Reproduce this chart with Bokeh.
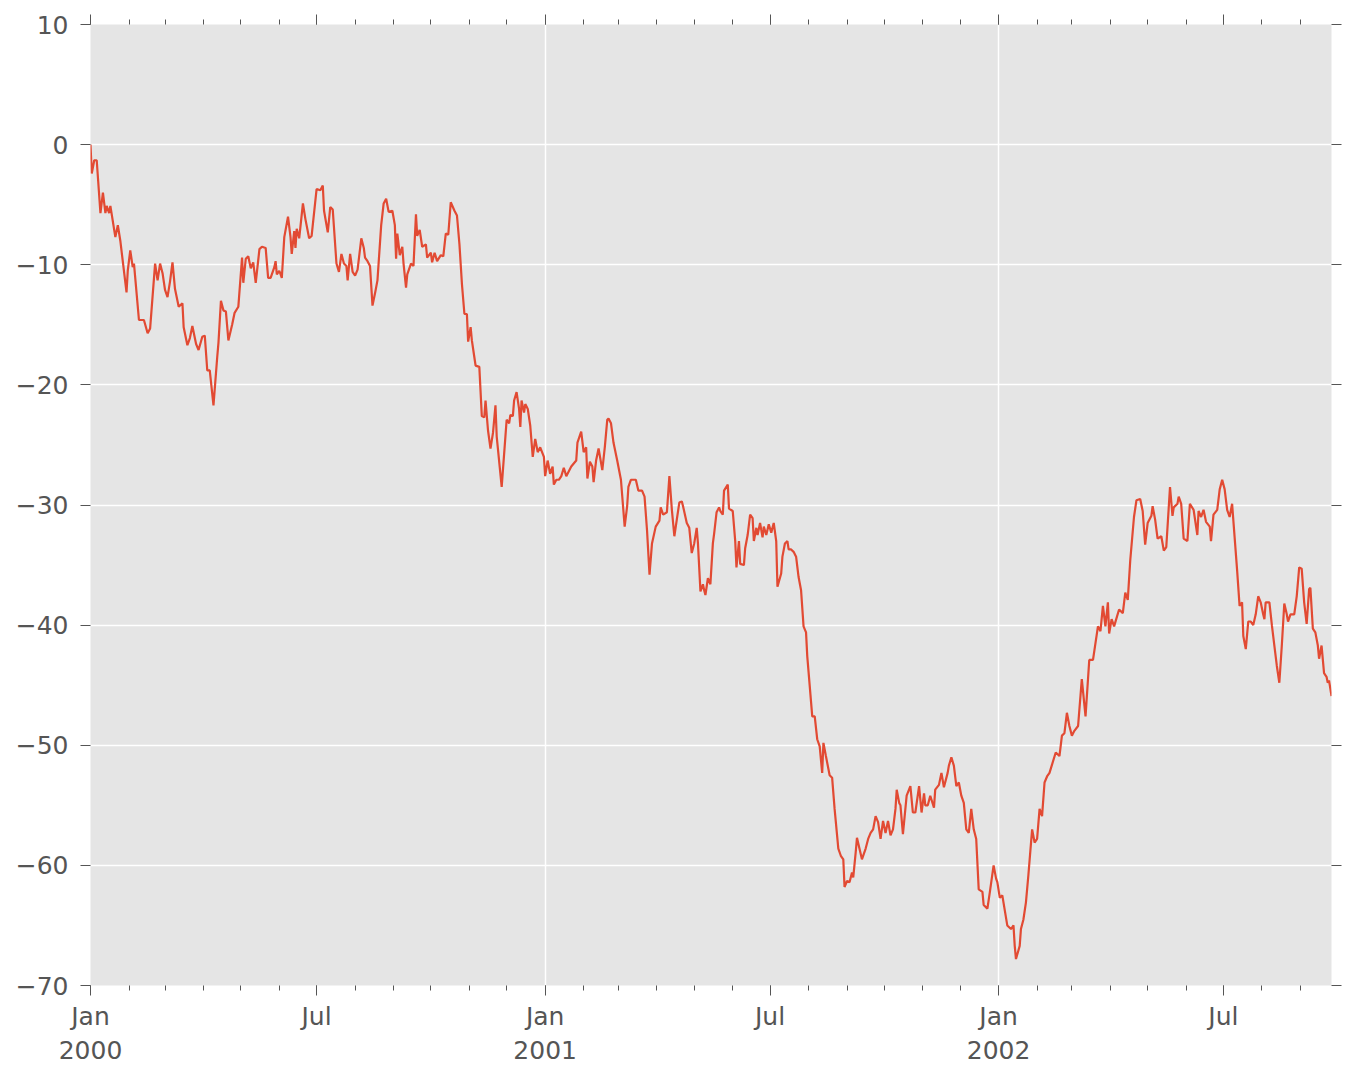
import pandas as pd
from bokeh.plotting import figure
from bokeh.models import (Range1d, FixedTicker, DatetimeAxis, LinearAxis,
                          CustomJSTickFormatter, ColumnDataSource)
from bokeh.embed import file_html
from bokeh.resources import INLINE

# ---------------- data ----------------
start_date = "2000-01-01"
end_date = "2002-09-26"

day_offsets = [
    0, 1, 3, 5, 8, 10, 12, 13, 15, 16, 20, 22, 24, 29, 30, 32, 34, 35, 39, 43,
    46, 48, 52, 54, 56, 58, 60, 62, 64, 66, 68, 71, 74, 75, 78, 80, 82, 85, 87, 90,
    92, 94, 96, 99, 102, 103, 105, 107, 109, 111, 114, 116, 119, 122, 123, 125, 127, 129, 131, 133,
    136, 138, 141, 143, 145, 148, 149, 150, 152, 154, 156, 159, 161, 162, 164, 165, 166, 168, 171, 173,
    176, 178, 182, 185, 187, 188, 191, 193, 195, 198, 200, 202, 204, 206, 207, 209, 211, 213, 215, 218,
    220, 221, 223, 225, 227, 229, 231, 234, 236, 238, 240, 243, 245, 246, 247, 249, 251, 252, 254, 255,
    258, 260, 262, 263, 265, 267, 270, 271, 274, 275, 277, 279, 282, 284, 286, 288, 290, 293, 295, 297,
    299, 301, 303, 304, 306, 307, 309, 310, 313, 315, 317, 318, 320, 322, 324, 326, 327, 331, 333, 335,
    337, 338, 340, 341, 343, 345, 346, 347, 349, 350, 352, 354, 356, 358, 360, 362, 365, 366, 368, 370,
    372, 373, 375, 377, 379, 381, 383, 387, 391, 392, 395, 397, 399, 400, 402, 404, 405, 407, 409, 412,
    414, 416, 417, 419, 421, 424, 427, 430, 432, 433, 435, 439, 441, 444, 446, 448, 450, 452, 455, 458,
    459, 461, 464, 466, 468, 470, 472, 474, 476, 477, 480, 482, 484, 486, 488, 489, 491, 493, 494, 495,
    497, 499, 501, 502, 504, 506, 507, 509, 510, 513, 514, 517, 519, 520, 522, 523, 526, 527, 529, 531,
    533, 534, 536, 537, 539, 541, 542, 544, 546, 548, 550, 552, 553, 556, 557, 559, 561, 562, 564, 566,
    568, 570, 572, 574, 576, 577, 579, 581, 583, 585, 587, 589, 590, 592, 595, 597, 599, 602, 604, 606,
    607, 609, 611, 613, 614, 616, 617, 619, 621, 624, 626, 628, 630, 632, 634, 636, 638, 640, 642, 644,
    646, 648, 649, 651, 652, 654, 657, 660, 662, 664, 667, 669, 671, 672, 674, 676, 679, 680, 683, 685,
    687, 690, 691, 693, 695, 697, 699, 701, 703, 705, 707, 709, 711, 713, 715, 718, 719, 722, 724, 727,
    729, 730, 732, 734, 738, 741, 743, 744, 745, 748, 749, 751, 753, 755, 758, 760, 762, 764, 766, 768,
    770, 772, 777, 780, 782, 784, 786, 788, 790, 792, 795, 798, 801, 804, 807, 811, 813, 815, 817, 819,
    820, 822, 824, 826, 828, 831, 833, 835, 837, 840, 842, 845, 847, 849, 851, 854, 855, 857, 859, 862,
    864, 866, 869, 871, 872, 875, 876, 878, 880, 883, 885, 888, 891, 892, 894, 896, 898, 901, 902, 904,
    907, 909, 911, 913, 915, 917, 919, 920, 923, 925, 927, 928, 930, 932, 934, 936, 938, 940, 942, 944,
    945, 946, 949, 951, 953, 955, 957, 959, 961, 963, 964, 966, 969, 971, 973, 975, 977, 979, 981, 982,
    984, 986, 988, 989, 991, 993, 995, 996, 997, 999,
]

values = [
    0.0, -2.4, -1.3, -1.3, -5.7, -4.0, -5.7, -5.1, -5.7, -5.1, -7.7, -6.7, -8.0, -12.3, -10.5, -8.8, -10.2, -9.9, -14.6, -14.6,
    -15.7, -15.3, -9.9, -11.3, -9.9, -10.7, -12.1, -12.7, -11.4, -9.8, -12.0, -13.5, -13.2, -15.2, -16.7, -16.1, -15.1, -16.6, -17.1, -16.0,
    -15.9, -18.8, -18.8, -21.7, -17.7, -16.5, -13.0, -13.8, -13.9, -16.3, -15.0, -14.0, -13.5, -9.4, -11.5, -9.5, -9.3, -10.3, -9.8, -11.5,
    -8.7, -8.5, -8.6, -11.1, -11.1, -10.2, -9.7, -10.8, -10.5, -11.1, -7.7, -6.0, -7.7, -9.1, -7.2, -8.6, -7.0, -7.8, -4.9, -6.2,
    -7.8, -7.6, -3.7, -3.8, -3.4, -5.5, -7.3, -5.2, -5.4, -9.9, -10.6, -9.1, -9.9, -10.1, -11.3, -9.1, -10.6, -10.9, -10.4, -7.8,
    -8.6, -9.4, -9.7, -10.1, -13.4, -12.4, -11.3, -6.7, -4.9, -4.5, -5.6, -5.5, -6.7, -9.5, -7.4, -9.2, -8.5, -9.9, -11.9, -10.8,
    -9.9, -10.1, -5.8, -7.6, -7.1, -8.5, -8.3, -9.4, -9.0, -9.8, -9.0, -9.7, -9.2, -9.3, -7.4, -7.5, -4.8, -5.5, -5.9, -8.3,
    -11.6, -14.1, -14.1, -16.4, -15.2, -16.3, -17.7, -18.4, -18.5, -22.6, -22.7, -21.3, -23.8, -25.3, -24.0, -21.7, -24.3, -28.5, -25.7, -22.9,
    -23.2, -22.5, -22.6, -21.3, -20.6, -22.0, -23.5, -21.3, -22.3, -21.6, -22.0, -23.4, -26.0, -24.5, -25.6, -25.2, -26.0, -27.6, -26.3, -27.4,
    -26.8, -28.3, -27.9, -27.9, -27.6, -26.9, -27.6, -26.8, -26.3, -24.8, -23.9, -25.6, -25.2, -27.8, -26.4, -26.8, -28.1, -26.3, -25.3, -27.1,
    -25.2, -22.9, -22.8, -23.2, -24.8, -26.3, -27.9, -31.8, -30.1, -28.5, -27.9, -27.9, -28.8, -28.8, -29.3, -32.1, -35.8, -33.2, -31.8, -31.3,
    -30.2, -30.8, -30.6, -27.6, -30.4, -32.6, -31.2, -29.8, -29.7, -30.1, -31.5, -31.9, -34.0, -33.2, -31.9, -33.2, -37.2, -36.6, -37.1, -37.5,
    -36.1, -36.6, -33.2, -32.4, -30.6, -30.2, -30.5, -30.8, -28.8, -28.3, -30.3, -30.5, -33.0, -35.2, -33.0, -34.9, -35.0, -33.6, -32.5, -30.8,
    -31.1, -33.0, -31.9, -32.5, -31.5, -32.7, -31.8, -32.5, -31.6, -32.3, -31.5, -33.0, -36.8, -35.7, -34.3, -33.2, -33.0, -33.7, -33.7, -33.9,
    -34.3, -36.0, -37.1, -40.1, -40.6, -42.6, -45.1, -47.6, -47.6, -49.5, -50.1, -52.3, -49.8, -50.9, -52.5, -52.7, -55.3, -58.6, -59.2, -59.5,
    -61.8, -61.3, -61.4, -60.6, -61.0, -58.9, -57.7, -58.6, -59.5, -58.6, -57.8, -57.3, -57.0, -55.9, -56.4, -57.8, -56.3, -57.3, -56.3, -57.5,
    -57.0, -55.3, -53.7, -54.8, -55.0, -57.4, -54.2, -53.4, -55.6, -55.6, -53.4, -55.6, -54.0, -55.0, -55.0, -54.2, -55.2, -53.7, -53.3, -52.3,
    -53.5, -52.3, -51.7, -51.0, -51.7, -53.4, -53.1, -54.2, -54.8, -57.0, -57.3, -55.3, -57.0, -57.8, -62.0, -62.2, -63.3, -63.6, -62.2, -60.0,
    -61.1, -61.4, -62.7, -62.5, -65.0, -65.3, -65.0, -66.7, -67.8, -66.7, -65.3, -64.5, -63.1, -60.8, -57.0, -58.1, -57.8, -55.3, -55.9, -53.1,
    -52.6, -52.3, -50.6, -50.9, -49.2, -49.0, -47.3, -48.4, -49.2, -48.8, -48.4, -44.5, -47.6, -42.9, -42.9, -40.1, -40.5, -38.4, -40.1, -38.1,
    -40.7, -39.5, -40.1, -39.4, -38.7, -39.0, -37.3, -37.9, -34.6, -31.0, -29.6, -29.5, -30.5, -33.3, -31.5, -30.9, -30.1, -31.2, -32.8, -32.6,
    -33.8, -33.5, -28.5, -30.9, -30.2, -29.9, -29.3, -29.9, -32.8, -33.0, -29.9, -30.4, -32.5, -30.5, -31.0, -30.4, -31.4, -31.8, -33.0, -30.8,
    -30.4, -28.7, -27.9, -28.7, -30.4, -31.0, -29.9, -31.3, -35.4, -38.4, -38.1, -40.9, -42.0, -39.7, -39.7, -40.0, -39.1, -37.6, -38.1, -39.1,
    -39.5, -38.1, -38.1, -40.0, -41.7, -43.4, -44.8, -41.7, -38.2, -39.1, -39.7, -39.1, -39.1, -37.6, -35.2, -35.3, -38.1, -39.9, -37.0, -36.9,
    -40.3, -40.6, -41.7, -42.8, -41.7, -44.0, -44.3, -44.8, -44.6, -45.9,
]

y_ticks = [-70, -60, -50, -40, -30, -20, -10, 0, 10]
y_min, y_max = -70, 10

x_tick_dates = ["2000-01-01", "2000-07-01", "2001-01-01", "2001-07-01", "2002-01-01", "2002-07-01"]
x_tick_labels = ["Jan\n2000", "Jul", "Jan\n2001", "Jul", "Jan\n2002", "Jul"]
x_grid_dates = ["2000-01-01", "2001-01-01", "2002-01-01"]
minor_first, minor_last = "2000-01-01", "2002-09-01"

# ---------------- build ----------------
def ms(d):
    return pd.Timestamp(d).value / 1e6

dates = pd.Timestamp(start_date) + pd.to_timedelta(day_offsets, unit="D")
src = ColumnDataSource(dict(date=dates, value=values))

major_x = [ms(d) for d in x_tick_dates]
minor_x = [ms(d) for d in pd.date_range(minor_first, minor_last, freq="MS")]
grid_x = [ms(d) for d in x_grid_dates]

LINE = "#E24A33"
TXT = "#555555"
FONT = "DejaVu Sans"
FS = "25px"

p = figure(width=1342, height=1068, x_axis_type="datetime",
           output_backend="svg", toolbar_location=None,
           x_range=Range1d(pd.Timestamp(start_date), pd.Timestamp(end_date)),
           y_range=Range1d(y_min, y_max),
           min_border_left=90, min_border_top=24, min_border_right=11, min_border_bottom=81)
p.background_fill_color = "#E5E5E5"
p.border_fill_color = "white"
p.outline_line_color = None

p.line("date", "value", source=src, line_color=LINE, line_width=2.2)

x_fmt = CustomJSTickFormatter(args=dict(major_ms=major_x, major_labels=x_tick_labels), code="""
    for (let i = 0; i < major_ms.length; i++) {
        if (Math.abs(major_ms[i] - tick) < 1000) { return major_labels[i]; }
    }
    return "";
""")
y_fmt = CustomJSTickFormatter(code="""
    return tick < 0 ? "\\u2212" + Math.abs(tick) : String(tick);
""")
blank = CustomJSTickFormatter(code="return '';")

def style(ax):
    ax.axis_line_color = None
    ax.major_tick_line_color = TXT
    ax.minor_tick_line_color = TXT
    ax.major_tick_in = 0
    ax.major_tick_out = 10
    ax.minor_tick_in = 0
    ax.minor_tick_out = 5
    ax.major_label_text_font = FONT
    ax.major_label_text_font_size = FS
    ax.major_label_text_color = TXT

xax = p.xaxis[0]
xax.ticker = FixedTicker(ticks=major_x, minor_ticks=minor_x)
xax.formatter = x_fmt
style(xax)
xax.major_label_standoff = 6

yax = p.yaxis[0]
yax.ticker = FixedTicker(ticks=y_ticks, minor_ticks=[])
yax.formatter = y_fmt
style(yax)
yax.major_label_standoff = 12

top = DatetimeAxis(ticker=FixedTicker(ticks=major_x, minor_ticks=minor_x), formatter=blank)
style(top)
top.major_label_text_font_size = "0px"
top.major_label_standoff = 0
p.add_layout(top, "above")

right = LinearAxis(ticker=FixedTicker(ticks=y_ticks, minor_ticks=[]), formatter=blank)
style(right)
right.major_label_text_font_size = "0px"
right.major_label_standoff = 0
p.add_layout(right, "right")

p.xgrid.ticker = FixedTicker(ticks=grid_x)
p.ygrid.ticker = FixedTicker(ticks=y_ticks)
for g in (p.xgrid, p.ygrid):
    g.grid_line_color = "white"
    g.grid_line_width = 1.5

open("out.html", "w").write(file_html(p, INLINE))
